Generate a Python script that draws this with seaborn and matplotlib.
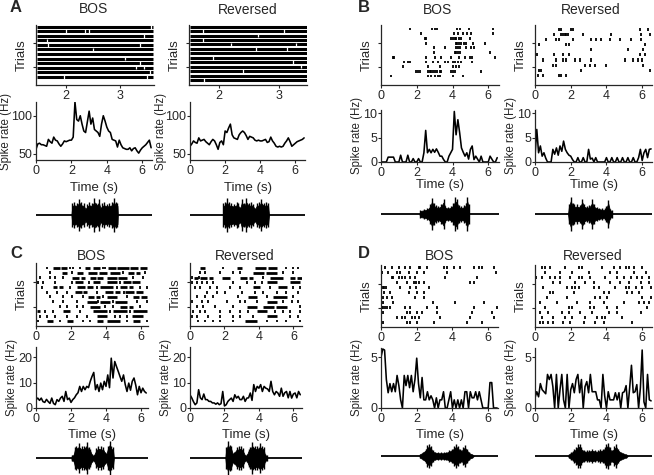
import numpy as np
import matplotlib
matplotlib.use("Agg")
import matplotlib.pyplot as plt
import seaborn as sns

# ---------------- data ----------------
BIN = 0.1  # PSTH bin width (s)

# PSTH rates (Hz), one value per 0.1 s bin starting at 0 s
a_bos_rate = [56, 63, 64, 62, 62, 61, 60, 69, 66, 64,
              72, 68, 67, 63, 60, 63, 67, 66, 67, 68,
              68, 72, 118, 95, 93, 100, 89, 80, 78, 92,
              106, 89, 97, 82, 80, 78, 73, 89, 100, 93,
              85, 80, 78, 69, 68, 67, 59, 68, 62, 58,
              57, 56, 56, 58, 54, 57, 58, 54, 51, 55,
              58, 60, 62, 65, 68, 58]
a_rev_rate = [60, 63, 67, 65, 64, 71, 67, 68, 69, 66,
              64, 62, 66, 69, 67, 62, 56, 65, 67, 62,
              80, 78, 84, 89, 75, 71, 70, 69, 75, 78,
              80, 78, 74, 69, 73, 72, 71, 68, 67, 68,
              67, 67, 68, 69, 65, 66, 72, 67, 64, 60,
              59, 60, 59, 60, 64, 67, 71, 66, 60, 62,
              64, 66, 67, 68, 69, 71]
b_bos_rate = [0, 0, 0, 0, 1, 1, 1, 1, 0, 0,
              0, 1.4, 0, 0, 0, 1.4, 0, 0, 0.7, 0,
              0, 0.7, 0, 0, 1.9, 6.5, 1.9, 2.6, 1.9, 2.6,
              2.0, 2.7, 2.0, 1.2, 1.2, 0.5, 0, 0, 1.2, 1.9,
              2.6, 10.4, 5.6, 8.7, 6.0, 2.9, 2.0, 1.2, 1.9, 0.6,
              2.6, 3.3, 0.5, 1.2, 0.6, 0, 1.2, 0, 0, 0,
              0, 1.2, 0.6, 0, 0, 0.9]
b_rev_rate = [1.2, 6.7, 1.9, 3.3, 1.2, 1.9, 0.8, 0, 0, 0,
              2.6, 1.6, 2.9, 1.4, 3.3, 2.2, 4.3, 2.6, 1.9, 1.4,
              1.2, 0.5, 0, 0, 0.9, 0, 0, 0.9, 0, 0,
              2.6, 0.6, 0.8, 0, 0.9, 0, 0, 0, 0, 0,
              0.9, 0, 0, 0.9, 0, 0, 0.9, 0, 0, 0.9,
              0, 0, 0.9, 0, 0, 0.9, 0, 0, 0.9, 2.6,
              0.3, 1.9, 2.6, 0.9, 2.6, 2.7]
c_bos_rate = [3.3, 3.9, 3.0, 3.9, 2.5, 2.2, 3.4, 2.5, 1.8, 3.9,
              1.8, 1.3, 3.3, 2.6, 3.9, 4.6, 2.6, 6.5, 3.3, 3.9,
              2.2, 3.3, 4.0, 5.2, 6.0, 8.5, 6.5, 8.5, 7.2, 8.5,
              8.0, 10.5, 12.4, 14.0, 7.2, 9.2, 6.5, 9.8, 7.2, 10.5,
              8.5, 13.0, 8.0, 19.6, 11.8, 18.3, 16.3, 14.4, 12.4, 10.5,
              13.0, 9.2, 6.5, 9.8, 7.0, 10.5, 11.8, 9.0, 5.2, 8.5,
              6.0, 7.8, 6.5, 5.9]
c_rev_rate = [5.2, 4.0, 2.5, 1.3, 2.0, 7.2, 4.0, 3.3, 5.5, 3.3,
              3.3, 2.6, 2.6, 2.0, 2.0, 1.5, 2.0, 1.3, 1.7, 6.5,
              0.8, 1.3, 2.6, 3.3, 3.9, 2.6, 5.2, 3.9, 4.6, 3.3,
              3.3, 4.6, 2.6, 3.9, 4.0, 5.9, 3.0, 9.2, 6.5, 8.5,
              7.8, 9.2, 6.5, 8.5, 7.8, 7.5, 6.5, 10.5, 6.5, 5.2,
              6.5, 5.9, 4.6, 7.8, 4.6, 6.0, 6.5, 4.0, 6.5, 3.9,
              5.5, 5.9, 4.0, 6.5, 5.2]
d_bos_rate = [5.0, 5.8, 5.7, 2.8, 1.5, 2.4, 1.6, 2.4, 1.6, 3.2,
              2.2, 0.8, 0, 3.2, 2.2, 3.2, 2.0, 3.2, 1.6, 2.8,
              4.9, 2.4, 1.0, 3.0, 0.8, 0.8, 1.6, 0.8, 1.2, 0.8,
              0, 1.0, 0, 0.8, 0.8, 1.6, 0, 0, 0.8, 1.6,
              0, 0.8, 0, 0.8, 0, 0.8, 0, 1.6, 1.6, 0,
              1.6, 1.0, 1.0, 1.6, 0.8, 1.6, 0.8, 0, 0, 0,
              0, 2.5, 2.5, 0, 0, 0]
d_rev_rate = [1.0, 1.6, 1.1, 2.4, 1.8, 1.6, 1.4, 3.3, 2.8, 3.3,
              2.1, 0, 3.3, 0, 1.8, 3.3, 0.8, 0, 3.3, 0,
              1.8, 2.4, 1.5, 2.8, 3.3, 1.5, 2.8, 0, 2.1, 2.6,
              1.5, 3.3, 1.6, 1.6, 1.6, 0.8, 0.8, 0, 3.3, 1.2,
              0, 1.6, 0.8, 0.8, 0.8, 1.5, 0.8, 1.5, 0, 1.5,
              1.6, 2.2, 0, 2.0, 4.2, 1.5, 1.6, 2.3, 0, 2.0,
              5.7, 0.6, 0, 3.3, 0.8, 0.7]

# panel A rasters: dense firing, each trial is a solid bar with a few silent gaps (s)
a_bos_span = (1.47, 3.62)
a_bos_gaps = [[3.58], [2.0, 2.35, 2.42], [3.45], [1.65], [1.68, 3.38], [2.5],
              [], [3.1], [3.38], [3.3, 3.45], [3.56], [1.97, 3.5]]
a_rev_span = (1.5, 3.48)
a_rev_gaps = [[], [1.72, 3.1], [2.65], [1.72], [2.2, 3.3], [2.62, 3.15], [],
              [1.9], [3.25], [3.38], [2.4], [], [1.75]]

# panel B rasters: spike times (s), top trial first
b_bos_spikes = [
    [1.6, 2.87, 3.0, 3.13, 4.27, 4.4, 4.93, 6.27],
    [2.22, 4.08, 4.3, 4.59, 4.83, 5.06, 6.27],
    [2.44, 2.53, 3.93, 4.03, 4.12, 4.2, 4.36, 4.5, 4.96],
    [2.5, 4.18, 4.27, 4.36, 4.5, 4.63, 4.78, 5.15, 5.81],
    [2.94, 3.56, 4.18, 4.3, 4.4, 4.78, 5.06, 5.21],
    [2.94, 4.12, 4.2, 4.3, 4.4, 6.09],
    [0.66, 0.75, 2.53, 3.0, 3.37, 3.93, 4.36, 4.68, 4.96, 5.11, 6.37],
    [1.31, 1.5, 1.6, 2.53, 2.9, 3.18, 3.56, 3.75, 4.03, 4.12, 4.3, 4.5, 5.11],
    [1.22, 2.62, 3.28, 4.03, 4.2, 4.36],
    [1.97, 2.07, 2.16, 2.62, 2.72, 2.81, 2.9, 3.0, 3.13, 3.28, 3.37, 3.93, 4.03, 4.12, 5.58],
    [0.56, 2.62, 2.81, 3.0, 3.18, 3.28, 4.03, 4.59],
]
b_rev_spikes = [
    [1.37, 1.47, 2.03, 2.12, 5.86, 6.33],
    [1.09, 1.47, 1.56, 1.66, 1.75, 1.84, 2.68, 4.27, 5.96, 6.42],
    [0.62, 1.18, 1.37, 2.12, 3.15, 3.43, 3.71, 4.18, 4.74, 5.4, 5.96],
    [0.24, 1.75, 1.93, 6.14],
    [3.15, 5.2, 6.05],
    [0.02, 0.1, 1.09, 1.56, 1.93, 5.86, 6.14],
    [0.43, 1.18, 1.56, 1.75, 2.22, 2.5, 3.15, 5.02, 5.49, 5.77, 6.01],
    [0.99, 1.18, 2.78, 3.06, 3.34, 4.0, 6.05],
    [0.24, 0.34, 2.59, 6.42],
    [0.02, 0.15, 0.43, 1.37, 1.47, 1.75],
]

# panel C rasters: isolated spikes plus dense bursts (start, end)
c_bos_spikes = [
    [0.61, 1.94, 2.13, 2.51, 3.8, 3.95],
    [0.8, 2.04, 4.95, 6.23],
    [0.23, 0.8, 1.09, 1.56, 5.56, 6.13],
    [0.13, 0.42, 1.09, 2.04, 3.0, 4.8],
    [0.32, 1.94, 3.5, 4.6, 5.94, 6.32],
    [0.61, 1.18, 1.75, 3.47, 5.0],
    [0.8, 1.56, 2.04, 2.7, 3.85, 5.18],
    [0.99, 1.56, 2.32, 3.55, 4.4, 5.75, 6.32],
    [1.37, 1.75, 2.32, 2.7, 3.94, 4.42, 5.94],
    [0.51, 0.99, 2.51, 4.2, 5.35],
    [0.23, 0.61, 1.09, 1.75, 2.32, 2.9, 4.51, 4.8, 5.2],
    [0.13, 1.37, 2.7, 3.09, 5.18, 6.32],
]
c_bos_bursts = [
    [(0.99, 1.35), (1.42, 1.75), (2.8, 3.09), (3.28, 3.66), (4.13, 4.55), (4.62, 5.3), (5.38, 5.85), (5.95, 6.32)],
    [(1.47, 1.75), (2.32, 2.7), (2.99, 3.5), (3.6, 4.04), (4.23, 4.8), (5.28, 5.6), (5.7, 5.94)],
    [(2.04, 2.45), (2.55, 2.8), (3.09, 3.4), (3.5, 3.85), (4.04, 4.6), (4.7, 5.18)],
    [(2.23, 2.7), (3.28, 3.66), (4.04, 4.61), (4.99, 5.4), (5.5, 5.94)],
    [(0.99, 1.2), (1.3, 1.56), (2.32, 2.8), (2.9, 3.28), (3.66, 4.42), (4.8, 5.2), (5.3, 5.56)],
    [(2.23, 2.6), (2.7, 2.9), (3.94, 4.4), (4.5, 4.8), (5.09, 5.6), (5.7, 6.13)],
    [(2.99, 3.3), (3.4, 3.66), (4.04, 4.61), (5.56, 5.9), (6.0, 6.32)],
    [(2.9, 3.47), (3.66, 4.23), (4.51, 5.18)],
    [(3.09, 3.66), (4.8, 5.2), (5.3, 5.56)],
    [(0.04, 0.23), (1.56, 1.94), (3.28, 4.04), (4.42, 5.18), (5.56, 6.32)],
    [(3.47, 4.04), (5.47, 6.13)],
    [(0.61, 0.99), (1.75, 2.13), (3.47, 3.85), (4.04, 4.8), (5.56, 5.94)],
]
c_rev_spikes = [
    [1.93, 5.6, 6.0, 6.28],
    [0.58, 0.87, 1.74, 2.51, 2.9, 5.42, 6.0],
    [0.1, 0.5, 4.26],
    [0.1, 0.39, 0.68, 0.97, 1.35, 2.51, 3.29, 3.77, 4.16],
    [0.29, 0.58, 1.16, 1.55, 2.32, 2.9, 4.64, 6.0, 6.38],
    [0.97, 1.55, 2.03, 3.0, 3.77, 4.26, 5.03, 5.6, 6.28],
    [0.39, 0.87, 1.35, 2.8, 4.45, 6.0],
    [0.1, 0.68, 1.06, 2.13, 2.9, 3.19, 3.87, 5.42, 5.9, 6.28],
    [0.39, 0.77, 1.45, 2.51, 6.38],
    [0.19, 0.58, 0.87, 1.74, 2.32, 2.9, 3.38, 4.93, 5.42, 5.8, 6.38],
    [0.1, 0.39, 1.06, 1.74, 2.51, 2.9, 3.67, 5.8, 6.28],
    [0.48, 0.87, 1.35, 1.74, 2.51, 4.45, 5.03, 5.6, 6.38],
]
c_rev_bursts = [
    [(0.58, 0.87), (2.7, 3.0), (3.77, 4.4), (4.5, 5.03)],
    [(3.67, 4.3), (4.4, 5.03)],
    [(0.25, 0.45), (0.6, 1.0), (1.1, 1.35), (1.84, 2.32), (2.9, 3.3), (3.4, 3.67), (4.64, 5.42), (5.8, 6.1), (6.2, 6.48)],
    [(4.45, 5.03), (5.8, 6.38)],
    [(3.67, 4.06), (5.13, 5.61)],
    [],
    [(3.38, 3.87), (4.84, 5.61)],
    [(4.45, 5.03)],
    [(3.29, 3.87), (4.26, 4.9), (5.0, 5.61)],
    [(3.87, 4.45)],
    [(4.45, 5.03)],
    [(3.19, 3.87)],
]

# panel D rasters
d_bos_spikes = [
    [0.22, 0.6, 0.98, 1.35, 1.63, 2.1, 2.16, 2.57, 3.5, 3.7, 4.07, 4.45, 5.2, 5.48, 5.67, 6.32],
    [0.04, 0.41, 0.88, 1.07, 1.54, 2.0, 2.38, 3.7, 6.42],
    [0.6, 0.69, 0.98, 1.16, 1.35, 1.63, 1.91, 3.6, 5.38],
    [0.88, 1.44, 1.82, 1.97, 2.1, 2.38, 5.0, 5.2],
    [0.09, 0.17, 0.28, 1.07, 1.63, 1.97, 2.66],
    [0.17, 0.51, 1.54, 2.0, 2.38],
    [0.09, 0.32, 0.6, 1.91, 2.38],
    [0.13, 0.69, 2.91, 4.17, 5.76],
    [0.04, 0.13, 0.22, 0.32, 0.51, 1.35, 1.6, 2.57, 3.13, 5.2, 6.5],
    [0.13, 1.44, 1.63, 2.0, 2.29, 3.13, 5.1, 6.23],
    [0.88, 1.16, 1.35, 1.73, 1.91, 2.1, 3.32, 5.0, 6.32],
    [0.13, 1.44, 1.63, 2.0, 2.95, 4.82, 5.67],
]
d_rev_spikes = [
    [0.38, 0.56, 0.84, 1.69, 2.44, 2.63, 3.75, 4.41, 4.78, 5.07, 5.25, 5.53, 6.0],
    [0.56, 1.41, 2.06, 3.0, 4.22, 4.6, 5.53, 6.19],
    [0.06, 0.38, 0.84, 1.13, 1.41, 1.97, 2.44, 2.63, 3.1, 3.94, 4.6, 4.97, 5.35, 5.72, 6.0, 6.38],
    [1.03, 1.41, 2.25, 2.81, 3.28, 4.22, 4.78, 5.25, 5.91, 6.38],
    [0.47, 1.78, 2.06, 2.25, 2.44, 3.28, 3.56, 4.5, 5.07, 5.25, 5.63, 6.0, 6.5],
    [0.84, 1.03, 2.16, 3.84, 4.13, 5.16, 5.44, 5.82],
    [0.66, 1.78, 3.38, 3.66, 4.03, 6.0, 6.47],
    [0.28, 1.22, 2.34, 3.1, 3.84, 4.97, 5.82, 6.1, 6.38],
    [0.56, 1.88, 2.06, 3.1, 3.28, 4.03, 4.6, 6.28],
    [0.28, 0.75, 1.5, 1.88, 2.53, 3.19, 4.13, 4.6, 5.91],
    [0.38, 1.03, 1.69, 2.06, 2.81, 3.47, 3.75, 3.94, 4.88],
    [0.28, 0.47, 0.75, 1.03, 1.59, 1.97, 2.72, 3.38, 3.84, 5.44],
]

# song waveform envelopes (time s, relative amplitude)
a_bos_wave_t = [2.0, 2.05, 2.15, 2.3, 2.45, 2.55, 2.7, 2.8, 2.9, 3.0, 3.15, 3.3, 3.4, 3.55, 3.65, 3.75, 3.85, 4.0, 4.15, 4.3, 4.4, 4.5, 4.6, 4.62]
a_bos_wave_a = [0, 0.75, 0.8, 0.75, 1.0, 0.8, 0.75, 0.45, 0.7, 0.8, 0.75, 1.05, 0.75, 1.0, 0.5, 0.75, 0.8, 0.7, 0.75, 0.8, 1.05, 0.8, 0.75, 0]
a_rev_wave_t = [1.88, 1.9, 2.0, 2.1, 2.2, 2.35, 2.5, 2.65, 2.75, 2.85, 2.95, 3.1, 3.2, 3.35, 3.5, 3.6, 3.7, 3.8, 3.95, 4.05, 4.2, 4.35, 4.45, 4.5]
a_rev_wave_a = [0, 0.75, 0.8, 1.05, 0.8, 0.75, 0.7, 0.8, 0.75, 0.5, 1.0, 0.75, 1.05, 0.75, 0.8, 0.7, 0.45, 0.75, 0.8, 1.0, 0.75, 0.8, 0.75, 0]
b_bos_wave_t = [2.15, 2.2, 2.4, 2.6, 2.75, 2.85, 2.95, 3.05, 3.2, 3.35, 3.5, 3.6, 3.75, 3.9, 4.05, 4.15, 4.25, 4.35, 4.5, 4.65, 4.75, 4.82, 4.9, 4.92]
b_bos_wave_a = [0, 0.25, 0.3, 0.35, 0.6, 1.0, 0.7, 0.55, 0.5, 0.6, 0.95, 0.5, 0.45, 0.5, 0.7, 1.05, 0.9, 0.55, 0.5, 0.55, 0.7, 1.05, 0.6, 0]
b_rev_wave_t = [1.85, 1.9, 2.0, 2.1, 2.2, 2.35, 2.5, 2.65, 2.75, 2.9, 3.05, 3.2, 3.3, 3.45, 3.6, 3.75, 3.9, 4.0, 4.1, 4.2, 4.3, 4.32]
b_rev_wave_a = [0, 0.6, 1.05, 0.7, 0.6, 0.6, 0.55, 0.95, 0.6, 0.5, 0.55, 0.9, 0.6, 0.45, 0.4, 0.35, 0.35, 0.5, 0.85, 0.3, 0.25, 0]
c_bos_wave_t = [2.02, 2.05, 2.15, 2.22, 2.3, 2.45, 2.6, 2.75, 2.9, 3.0, 3.1, 3.2, 3.3, 3.45, 3.55, 3.7, 3.85, 3.95, 4.02, 4.1, 4.2, 4.3, 4.4, 4.45]
c_bos_wave_a = [0, 0.2, 0.25, 0.7, 0.8, 0.95, 0.75, 0.8, 1.05, 0.7, 0.6, 0.25, 0.2, 0.65, 0.8, 0.75, 0.7, 0.4, 0.3, 0.75, 1.1, 0.8, 0.7, 0]
c_rev_wave_t = [2.05, 2.1, 2.2, 2.3, 2.4, 2.48, 2.55, 2.7, 2.85, 2.95, 3.05, 3.2, 3.3, 3.4, 3.5, 3.6, 3.75, 3.9, 4.05, 4.2, 4.28, 4.35, 4.45, 4.48]
c_rev_wave_a = [0, 0.7, 1.1, 0.85, 0.75, 0.3, 0.4, 0.7, 0.75, 0.8, 0.65, 0.2, 0.25, 0.6, 0.7, 1.05, 0.8, 0.75, 0.95, 0.8, 0.7, 0.25, 0.2, 0]
d_bos_wave_t = [2.15, 2.2, 2.35, 2.5, 2.6, 2.7, 2.8, 2.9, 3.05, 3.2, 3.35, 3.5, 3.65, 3.8, 3.95, 4.1, 4.2, 4.3, 4.4, 4.5, 4.6, 4.7, 4.8, 4.95, 5.1, 5.2]
d_bos_wave_a = [0, 0.2, 0.35, 0.6, 0.9, 1.0, 0.8, 0.45, 0.35, 0.3, 0.3, 0.3, 0.35, 0.45, 0.6, 0.8, 1.0, 0.85, 0.6, 0.5, 0.75, 0.9, 0.6, 0.3, 0.15, 0]
d_rev_wave_t = [1.85, 1.9, 2.0, 2.1, 2.2, 2.3, 2.4, 2.5, 2.6, 2.75, 2.9, 3.05, 3.2, 3.35, 3.5, 3.65, 3.8, 3.9, 4.0, 4.1, 4.2, 4.3, 4.45, 4.55, 4.65, 4.8, 4.95, 5.1, 5.2]
d_rev_wave_a = [0, 0.15, 0.3, 0.4, 0.55, 0.7, 0.95, 1.0, 0.7, 0.5, 0.45, 0.5, 0.55, 0.5, 0.45, 0.55, 0.6, 0.75, 1.0, 1.05, 0.7, 0.5, 0.8, 0.95, 0.6, 0.35, 0.25, 0.15, 0]

# ---------------- style ----------------
sns.set_style("ticks")
plt.rcParams['font.family'] = ['Liberation Sans', 'DejaVu Sans']
plt.rcParams['axes.linewidth'] = 0.9
plt.rcParams['xtick.major.size'] = 2
plt.rcParams['ytick.major.size'] = 2
plt.rcParams['xtick.major.width'] = 0.8
plt.rcParams['ytick.major.width'] = 0.8
plt.rcParams['xtick.major.pad'] = 1.5
plt.rcParams['ytick.major.pad'] = 0.5
plt.rcParams['xtick.labelsize'] = 9
plt.rcParams['ytick.labelsize'] = 9

W, H = 654, 475
fig = plt.figure(figsize=(W / 100, H / 100), dpi=100)


def add_ax(x0, y0, x1, y1):
    # box in pixels, measured from the top-left corner
    return fig.add_axes([x0 / W, 1 - y1 / H, (x1 - x0) / W, (y1 - y0) / H])


def ftext(x, y, s, **kw):
    fig.text(x / W, 1 - y / H, s, ha='center', va='center', **kw)


def raster_axis(ax, n, xlim, xticks, pad_top, pad_bot):
    lo, hi = 1 - pad_bot, n + pad_top
    ax.set_xlim(*xlim)
    ax.set_ylim(lo, hi)
    ax.set_yticks([lo + 0.3 * (hi - lo), lo + 0.7 * (hi - lo)])
    ax.set_yticklabels([])
    ax.set_xticks(xticks)
    sns.despine(ax=ax)


def spike_raster(ax, spikes, xlim, pad_top, pad_bot, bursts=None):
    n = len(spikes)
    rows = np.arange(n, 0, -1)
    ax.eventplot(spikes, lineoffsets=rows, linelengths=0.6, linewidths=1.3, colors='k')
    if bursts:
        for r, segs in zip(rows, bursts):
            for s, e in segs:
                ax.hlines(r, s, e, color='k', lw=2.0, capstyle='butt')
    raster_axis(ax, n, xlim, [0, 2, 4, 6], pad_top, pad_bot)


def bar_raster(ax, span, gaps, xlim, pad_top, pad_bot):
    n = len(gaps)
    rows = np.arange(n, 0, -1)
    ax.hlines(rows, span[0], span[1], color='k', lw=2.2, capstyle='butt')
    for r, g in zip(rows, gaps):
        if g:
            ax.vlines(g, r - 0.4, r + 0.4, color='white', lw=0.9)
    raster_axis(ax, n, xlim, [2, 3], pad_top, pad_bot)


def psth(ax, vals, xlim, ylim, yticks):
    t = np.round(np.arange(len(vals)) * BIN, 2)
    sns.lineplot(x=t, y=vals, ax=ax, color='k', linewidth=1.15)
    ax.set_xlim(*xlim)
    ax.set_ylim(*ylim)
    ax.set_xticks([0, 2, 4, 6])
    ax.set_yticks(yticks)
    ax.set_xlabel('')
    ax.set_ylabel('')
    sns.despine(ax=ax)


def wave(ax, t, a, xlim):
    a = np.array(a)
    ax.axhline(0, color='k', lw=1.3)
    ax.fill_between(t, -0.75 * a, 0.75 * a, color='k', lw=0.6)
    ax.vlines(t, -a, a, color='k', lw=1.0)
    ax.set_xlim(*xlim)
    ax.set_ylim(-1.3, 1.3)
    ax.axis('off')


LBL = 9.5

# ---------------- panel A ----------------
bar_raster(add_ax(36, 25, 154, 85), a_bos_span, a_bos_gaps, (1.45, 3.63), 0.37, 1.83)
bar_raster(add_ax(189, 25, 307, 85), a_rev_span, a_rev_gaps, (1.49, 3.48), 0.38, 1.13)
psth(add_ax(36, 102, 152, 160), a_bos_rate, (0, 6.55), (42, 118), [50, 100])
psth(add_ax(190, 102, 305, 160), a_rev_rate, (0, 6.55), (42, 118), [50, 100])
wave(add_ax(36, 194, 152, 236), a_bos_wave_t, a_bos_wave_a, (0, 6.55))
wave(add_ax(190, 194, 305, 236), a_rev_wave_t, a_rev_wave_a, (0, 6.55))

# ---------------- panel B ----------------
spike_raster(add_ax(381, 25, 499, 85), b_bos_spikes, (0, 6.6), 0.85, 1.9)
spike_raster(add_ax(535, 25, 652, 85), b_rev_spikes, (0, 6.55), 0.85, 1.9)
psth(add_ax(381, 110, 499, 162), b_bos_rate, (0, 6.6), (0, 10.7), [0, 5, 10])
psth(add_ax(535, 110, 652, 162), b_rev_rate, (0, 6.55), (0, 10.7), [0, 5, 10])
wave(add_ax(381, 193, 499, 235), b_bos_wave_t, b_bos_wave_a, (0, 6.6))
wave(add_ax(535, 193, 652, 235), b_rev_wave_t, b_rev_wave_a, (0, 6.55))

# ---------------- panel C ----------------
spike_raster(add_ax(36, 263, 148, 326), c_bos_spikes, (0, 6.4), 1.04, 1.04, c_bos_bursts)
spike_raster(add_ax(190, 263, 302, 326), c_rev_spikes, (0, 6.5), 1.04, 1.04, c_rev_bursts)
psth(add_ax(36, 347, 148, 408), c_bos_rate, (0, 6.4), (0, 24), [0, 10, 20])
psth(add_ax(190, 347, 302, 408), c_rev_rate, (0, 6.5), (0, 24), [0, 10, 20])
wave(add_ax(36, 438, 148, 478), c_bos_wave_t, c_bos_wave_a, (0, 6.4))
wave(add_ax(190, 438, 302, 478), c_rev_wave_t, c_rev_wave_a, (0, 6.5))

# ---------------- panel D ----------------
spike_raster(add_ax(381, 265, 498, 327), d_bos_spikes, (0, 6.55), 0.6, 1.0)
spike_raster(add_ax(535, 265, 652, 327), d_rev_spikes, (0, 6.55), 0.6, 1.0)
psth(add_ax(381, 348, 498, 408), d_bos_rate, (0, 6.55), (0, 5.9), [0, 5])
psth(add_ax(535, 348, 652, 408), d_rev_rate, (0, 6.55), (0, 5.9), [0, 5])
wave(add_ax(381, 440, 498, 472), d_bos_wave_t, d_bos_wave_a, (0, 6.55))
wave(add_ax(535, 440, 652, 472), d_rev_wave_t, d_rev_wave_a, (0, 6.55))

# ---------------- text ----------------
for x, y, s in [(16, 8, 'A'), (364, 8, 'B'), (16, 253, 'C'), (364, 253, 'D')]:
    ftext(x, y, s, fontsize=12, fontweight='bold')
for x, y, s in [(94, 9, 'BOS'), (248, 10, 'Reversed'), (438, 10, 'BOS'), (591, 10, 'Reversed'),
                (92, 256, 'BOS'), (245, 256, 'Reversed'), (440, 256, 'BOS'), (593, 256, 'Reversed')]:
    ftext(x, y, s, fontsize=10)
for x, y in [(22, 55), (175, 55), (367, 55), (521, 55), (22, 294), (176, 294), (367, 296), (521, 296)]:
    ftext(x, y, 'Trials', fontsize=LBL, rotation=90)
for x, y in [(6, 131), (161, 131), (357, 136), (511, 136), (12, 378), (166, 378), (357, 378), (511, 378)]:
    ftext(x, y, 'Spike rate (Hz)', fontsize=8.3, rotation=90)
for x, y in [(94, 188), (248, 188), (440, 185), (594, 185), (92, 435), (246, 435), (440, 435), (594, 435)]:
    ftext(x, y, 'Time (s)', fontsize=LBL)

fig.savefig('out.png', dpi=100)
